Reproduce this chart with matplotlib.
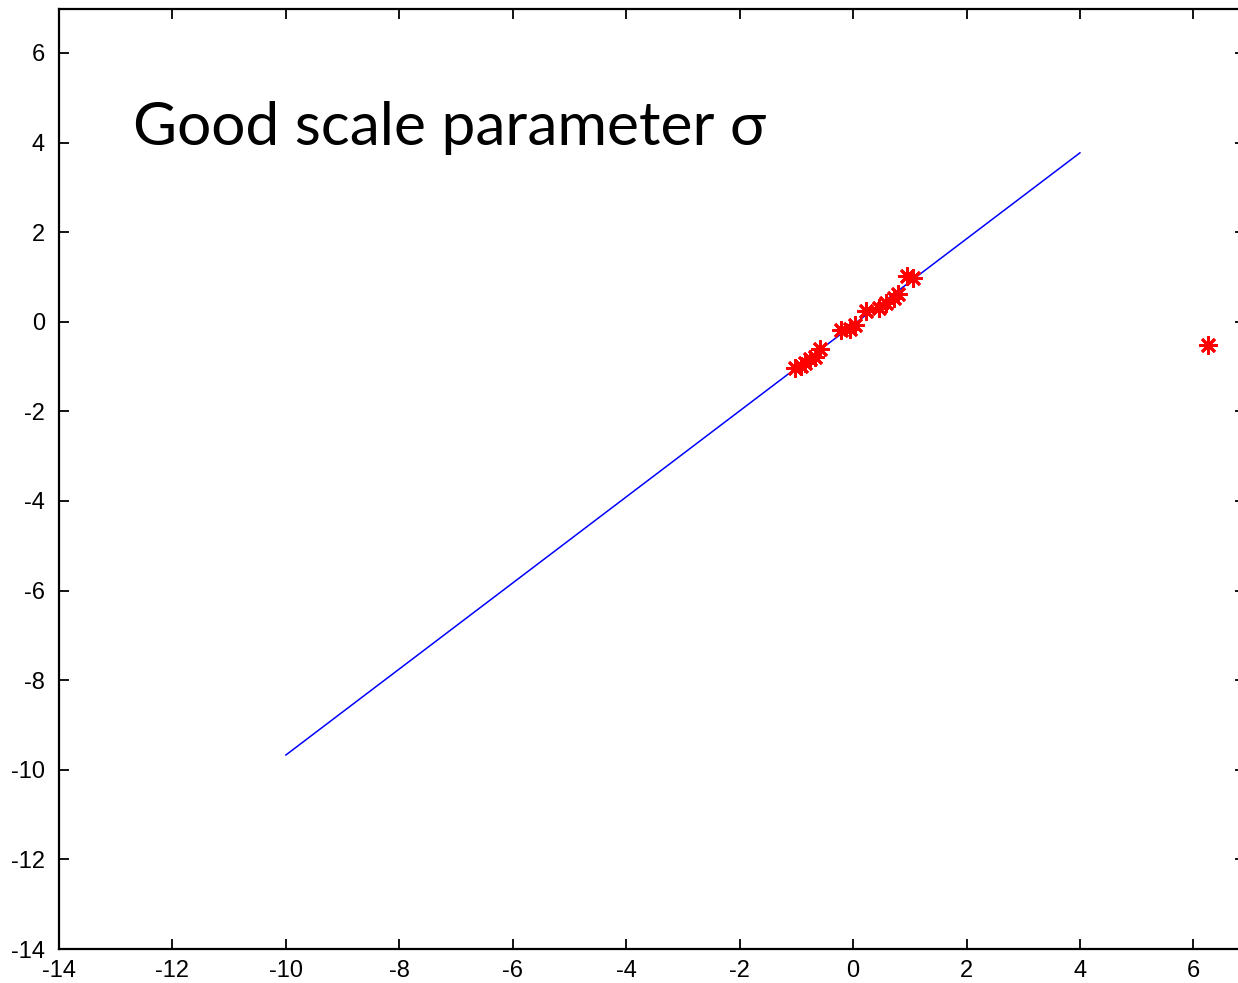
import matplotlib
matplotlib.use("Agg")
import matplotlib.pyplot as plt

plt.rcParams["axes.unicode_minus"] = False

# fitted line endpoints
line_x = [-10.0, 4.0]
line_y = [-9.67, 3.77]

# observed points (red asterisks)
pts_x = [-1.02, -0.92, -0.85, -0.76, -0.68, -0.58, -0.22, -0.05, 0.04,
         0.22, 0.45, 0.58, 0.72, 0.80, 0.95, 1.05, 6.25]
pts_y = [-1.03, -0.98, -0.92, -0.84, -0.78, -0.60, -0.18, -0.16, -0.08,
         0.24, 0.30, 0.42, 0.52, 0.62, 1.02, 0.98, -0.52]

xticks = [-14, -12, -10, -8, -6, -4, -2, 0, 2, 4, 6]
yticks = [-14, -12, -10, -8, -6, -4, -2, 0, 2, 4, 6]

W, H = 1238, 983
fig = plt.figure(figsize=(W / 100, H / 100), dpi=100)
left, right, top, bottom = 59, 1245, 9, 949
ax = fig.add_axes([left / W, (H - bottom) / H, (right - left) / W, (bottom - top) / H])

ax.plot(line_x, line_y, color=(0, 0, 1), lw=1.1)
ax.plot(pts_x, pts_y, linestyle="none", marker=(8, 2, 0), markersize=13,
        markeredgewidth=2.0, color="red")

ax.set_xlim(-14, 6.91)
ax.set_ylim(-14, 6.98)
ax.set_xticks(xticks)
ax.set_yticks(yticks)
ax.tick_params(direction="in", length=7, width=1.3, top=True, right=True,
               labelsize=17, colors="black")
ax.tick_params(axis="x", pad=8)
ax.tick_params(axis="y", pad=10)
for lab in ax.get_xticklabels() + ax.get_yticklabels():
    lab.set_fontfamily("Liberation Sans")
for s in ax.spines.values():
    s.set_linewidth(1.6)

ax.text(133, H - 145, "Good scale parameter σ", transform=None, fontsize=43.5,
        family=["Lato", "DejaVu Sans"], va="baseline", ha="left")

fig.savefig("out.png", dpi=100)
